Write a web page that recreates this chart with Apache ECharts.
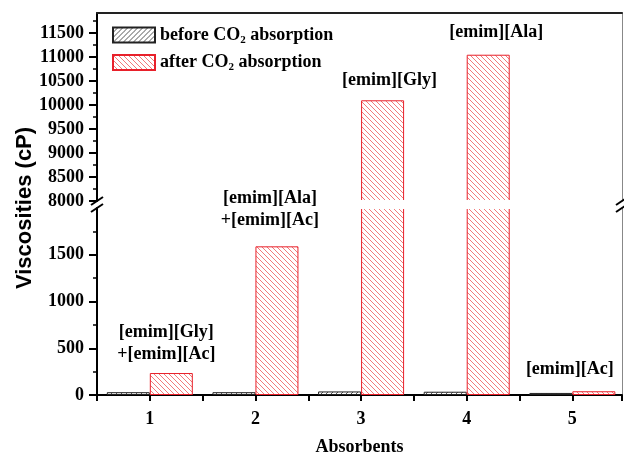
<!DOCTYPE html>
<html>
<head>
<meta charset="utf-8">
<script src="https://cdn.jsdelivr.net/npm/echarts@6/dist/echarts.min.js"></script>
<style>html,body{margin:0;padding:0;background:#fff;}#c{width:624px;height:457px;}</style>
</head>
<body>
<div id="c"></div>
<script>
const categories = [1, 2, 3, 4, 5];
const seriesNames = ['before CO2 absorption', 'after CO2 absorption'];
const beforeValues = [30, 30, 38, 35, 22];
const afterValues = [235, 1590, 10100, 11050, 40];
const barLabels = ['[emim][Gly]\n+[emim][Ac]', '[emim][Ala]\n+[emim][Ac]', '[emim][Gly]', '[emim][Ala]', '[emim][Ac]'];
const upperTicks = [8000, 8500, 9000, 9500, 10000, 10500, 11000, 11500];
const lowerTicks = [0, 500, 1000, 1500];
const xTicks = [1, 2, 3, 4, 5];

const upperMin = 8000, upperMax = 11920, lowerMin = 0, lowerMax = 2000;
const xMin = 0.5, xMax = 5.47;
const barW = 43;
const labelOffsets = [[-5, -3], [-7, -10], [7, -4], [8, -6], [-24, -6]];

function hatch(color, dir) {
  const s = 5;
  const c = document.createElement('canvas');
  c.width = c.height = s;
  const ctx = c.getContext('2d');
  ctx.fillStyle = '#fff';
  ctx.fillRect(0, 0, s, s);
  ctx.strokeStyle = color;
  ctx.lineWidth = 1;
  ctx.beginPath();
  if (dir === 'back') {
    ctx.moveTo(-1, -1); ctx.lineTo(s + 1, s + 1);
    ctx.moveTo(-1, s - 1); ctx.lineTo(1, s + 1);
    ctx.moveTo(s - 1, -1); ctx.lineTo(s + 1, 1);
  } else {
    ctx.moveTo(-1, s + 1); ctx.lineTo(s + 1, -1);
    ctx.moveTo(-1, 1); ctx.lineTo(1, -1);
    ctx.moveTo(s - 1, s + 1); ctx.lineTo(s + 1, s - 1);
  }
  ctx.stroke();
  return c;
}

const beforeStyle = { color: { image: hatch('#555', 'fwd'), repeat: 'repeat' }, borderColor: '#222', borderWidth: 1 };
const afterStyle = { color: { image: hatch('#f27a7a', 'back'), repeat: 'repeat' }, borderColor: '#e8202a', borderWidth: 1 };

const serifBold = { fontFamily: 'Liberation Serif', fontWeight: 'bold', fontSize: 18, color: '#000' };

function afterData(inUpper) {
  return categories.map((c, i) => {
    const big = afterValues[i] > lowerMax;
    const show = inUpper ? big : !big;
    return {
      value: [c, afterValues[i]],
      label: { show: show, offset: labelOffsets[i], formatter: barLabels[i] }
    };
  });
}
const beforeData = categories.map((c, i) => [c, beforeValues[i]]);

const xBase = { type: 'value', min: xMin, max: xMax, interval: 0.5, splitLine: { show: false } };
const yBase = { type: 'value', interval: 500, splitLine: { show: false } };

const barCommon = { type: 'bar', barWidth: barW, barGap: '0%', clip: true, animation: false };
const labelStyle = Object.assign({ position: 'top', distance: 5, lineHeight: 22 }, serifBold);

const option = {
  animation: false,
  backgroundColor: '#fff',
  grid: [
    { left: 97, right: 2, top: 13, height: 188 },
    { left: 97, right: 2, top: 208, height: 190 }
  ],
  legend: {
    orient: 'vertical', left: 112, top: 26, padding: 0, itemWidth: 42, itemHeight: 15, itemGap: 8,
    icon: 'rect', data: seriesNames,
    formatter: n => n.replace('CO2', 'CO{sub|2}'),
    textStyle: Object.assign({}, serifBold, {
      rich: { sub: { fontFamily: 'Liberation Serif', fontWeight: 'bold', fontSize: 11, color: '#000', padding: [10, 0, 0, 0] } }
    })
  },
  xAxis: [
    Object.assign({}, xBase, {
      gridIndex: 0, position: 'top',
      axisLine: { show: true, lineStyle: { color: '#222', width: 2 } },
      axisTick: { show: false }, axisLabel: { show: false }
    }),
    Object.assign({}, xBase, {
      gridIndex: 1, position: 'bottom',
      axisLine: { show: true, onZero: false, lineStyle: { color: '#000', width: 2 } },
      axisTick: { show: true, length: 6, lineStyle: { color: '#000', width: 2 } },
      axisLabel: Object.assign({ margin: 15, customValues: xTicks, formatter: v => String(v) }, serifBold),
      name: 'Absorbents', nameLocation: 'middle', nameGap: 43,
      nameTextStyle: serifBold
    })
  ],
  yAxis: [
    Object.assign({}, yBase, {
      gridIndex: 0, min: upperMin, max: upperMax, position: 'left',
      axisLine: { show: true, lineStyle: { color: '#000', width: 2 } },
      axisTick: { show: true, length: 8, customValues: upperTicks, lineStyle: { color: '#000', width: 2 } },
      minorTick: { show: true, splitNumber: 2, length: 4, lineStyle: { color: '#000', width: 1.5 } },
      axisLabel: Object.assign({ margin: 13, customValues: upperTicks, formatter: v => String(v) }, serifBold)
    }),
    Object.assign({}, yBase, {
      gridIndex: 0, min: upperMin, max: upperMax, position: 'right',
      axisLine: { show: true, lineStyle: { color: '#888', width: 1 } },
      axisTick: { show: false }, axisLabel: { show: false }
    }),
    Object.assign({}, yBase, {
      gridIndex: 1, min: lowerMin, max: lowerMax, position: 'left',
      axisLine: { show: true, lineStyle: { color: '#000', width: 2 } },
      axisTick: { show: true, length: 8, customValues: lowerTicks, lineStyle: { color: '#000', width: 2 } },
      minorTick: { show: true, splitNumber: 2, length: 4, lineStyle: { color: '#000', width: 1.5 } },
      axisLabel: Object.assign({ margin: 13, customValues: lowerTicks, formatter: v => String(v) }, serifBold)
    }),
    Object.assign({}, yBase, {
      gridIndex: 1, min: lowerMin, max: lowerMax, position: 'right',
      axisLine: { show: true, lineStyle: { color: '#888', width: 1 } },
      axisTick: { show: false }, axisLabel: { show: false }
    })
  ],
  series: [
    Object.assign({}, barCommon, { name: seriesNames[0], xAxisIndex: 1, yAxisIndex: 2, data: beforeData, itemStyle: beforeStyle }),
    Object.assign({}, barCommon, { name: seriesNames[1], xAxisIndex: 1, yAxisIndex: 2, data: afterData(false), itemStyle: afterStyle, label: labelStyle }),
    Object.assign({}, barCommon, { name: seriesNames[0], xAxisIndex: 0, yAxisIndex: 0, data: beforeData, itemStyle: beforeStyle }),
    Object.assign({}, barCommon, { name: seriesNames[1], xAxisIndex: 0, yAxisIndex: 0, data: afterData(true), itemStyle: afterStyle, label: labelStyle })
  ]
};

const chart = echarts.init(document.getElementById('c'), null, { renderer: 'canvas' });
chart.setOption(option);

// axis break: open the gap on broken bars, slash marks, rotated y title
const pUL = chart.convertToPixel({ xAxisIndex: 0, yAxisIndex: 0 }, [xMin, upperMin]);
const pUR = chart.convertToPixel({ xAxisIndex: 0, yAxisIndex: 0 }, [xMax, upperMin]);
const pLL = chart.convertToPixel({ xAxisIndex: 1, yAxisIndex: 2 }, [xMin, lowerMax]);
const pLR = chart.convertToPixel({ xAxisIndex: 1, yAxisIndex: 2 }, [xMax, lowerMax]);
function slash(p) {
  return { type: 'line', z: 101, shape: { x1: p[0] - 6, y1: p[1] + 4, x2: p[0] + 6, y2: p[1] - 4 }, style: { stroke: '#000', lineWidth: 2 } };
}
const gapCovers = [];
categories.forEach((c, i) => {
  if (afterValues[i] > lowerMax) {
    const cx = chart.convertToPixel({ xAxisIndex: 1, yAxisIndex: 2 }, [c, 0])[0];
    gapCovers.push({ type: 'rect', z: 100, shape: { x: cx - 2, y: pUL[1] - 1, width: barW + 4, height: pLL[1] - pUL[1] + 2 }, style: { fill: '#fff' } });
  }
});
const midY = (chart.convertToPixel({ xAxisIndex: 0, yAxisIndex: 0 }, [xMin, upperMax])[1] +
  chart.convertToPixel({ xAxisIndex: 1, yAxisIndex: 2 }, [xMin, lowerMin])[1]) / 2;
chart.setOption({
  graphic: gapCovers.concat([
    slash(pUL), slash(pLL), slash(pUR), slash(pLR),
    {
      type: 'text', x: 25, y: midY + 4, rotation: Math.PI / 2,
      style: { text: 'Viscosities (cP)', fontFamily: 'Liberation Sans', fontWeight: 'bold', fontSize: 22, fill: '#000', textAlign: 'center', textVerticalAlign: 'middle' }
    }
  ])
});
</script>
</body>
</html>
